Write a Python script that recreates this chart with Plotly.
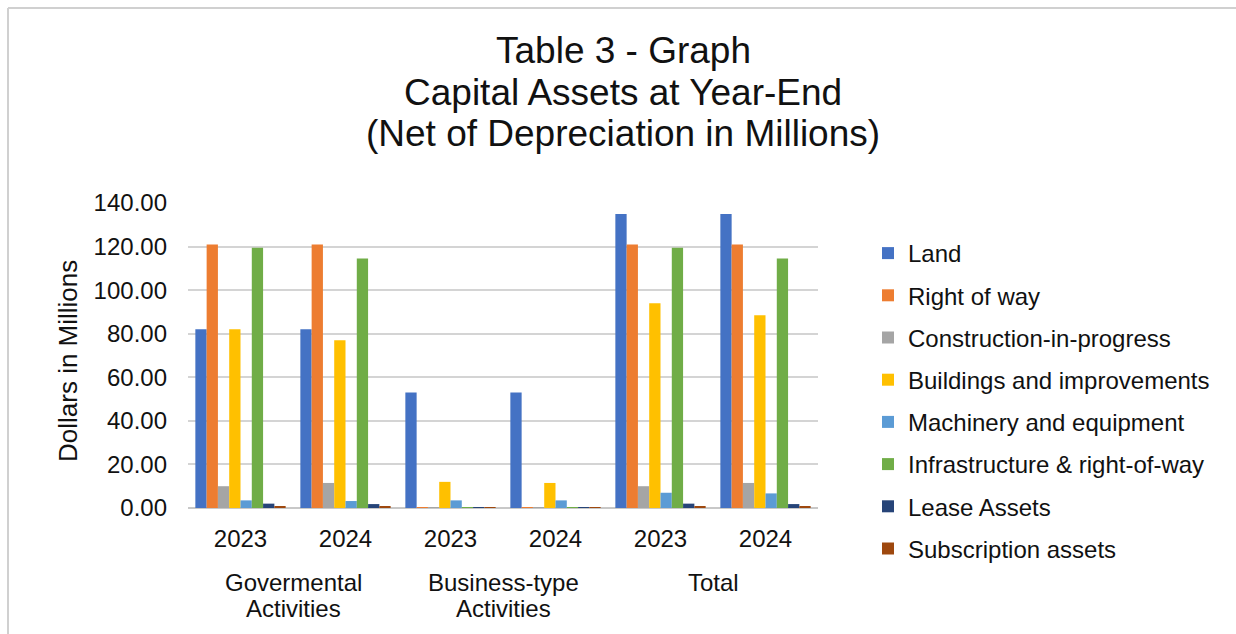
import plotly.graph_objects as go

# Category labels
years = ["2023", "2024", "2023", "2024", "2023", "2024"]
groups = [["Govermental", "Activities"], ["Business-type", "Activities"], ["Total"]]
title_lines = ["Table 3 - Graph", "Capital Assets at Year-End", "(Net of Depreciation in Millions)"]
y_title = "Dollars in Millions"

# Net capital assets by class, in millions
land = [82.0, 82.0, 53.0, 53.0, 135.0, 135.0]
right_of_way = [121.0, 121.0, 0.2, 0.2, 121.0, 121.0]
construction = [10.0, 11.5, 0.2, 0.2, 10.0, 11.5]
buildings = [82.0, 77.0, 12.0, 11.5, 94.0, 88.5]
machinery = [3.5, 3.2, 3.5, 3.5, 7.0, 6.7]
infrastructure = [119.5, 114.5, 0.3, 0.3, 119.5, 114.5]
lease = [2.0, 1.8, 0.3, 0.3, 2.0, 1.8]
subscription = [0.5, 0.5, 0.3, 0.3, 0.5, 0.5]

series = [
    ("Land", land, "#4472C4"),
    ("Right of way", right_of_way, "#ED7D31"),
    ("Construction-in-progress", construction, "#A5A5A5"),
    ("Buildings and improvements", buildings, "#FFC000"),
    ("Machinery and equipment", machinery, "#5B9BD5"),
    ("Infrastructure & right-of-way", infrastructure, "#70AD47"),
    ("Lease Assets", lease, "#264478"),
    ("Subscription assets", subscription, "#9E480E"),
]

W, H = 1236, 634
ML, MR, MT, MB = 188, 418, 203, 126
PW, PH = W - ML - MR, H - MT - MB


def px(x):
    return (x - ML) / PW


def py(y):
    return (H - MB - y) / PH


FONT = "Liberation Sans, Arial, sans-serif"
TXT = "#111111"
xpos = list(range(len(years)))

fig = go.Figure()
for i, (name, vals, color) in enumerate(series):
    fig.add_trace(go.Bar(
        x=xpos, y=vals, name=name, legendgroup=f"g{i}",
        marker=dict(color=color, line=dict(width=0)),
    ))

fig.update_layout(
    width=W, height=H,
    margin=dict(l=ML, r=MR, t=MT, b=MB, autoexpand=False),
    paper_bgcolor="white", plot_bgcolor="white",
    barmode="group", bargap=0.14, bargroupgap=0.0,
    font=dict(family=FONT, color=TXT),
    xaxis=dict(
        tickmode="array", tickvals=xpos, ticktext=years,
        range=[-0.5, 5.5], showgrid=False, zeroline=False,
        showline=False, ticks="", tickfont=dict(size=24, color=TXT),
        ticklabelstandoff=14,
    ),
    yaxis=dict(
        range=[0, 140], dtick=20, tickformat=".2f",
        showgrid=True, gridcolor="#d4d4d4", gridwidth=2,
        zeroline=True, zerolinecolor="#c8c8c8", zerolinewidth=2,
        showline=False, ticks="", tickfont=dict(size=24, color=TXT),
        ticklabelstandoff=20,
    ),
    legend=dict(
        x=868 / W, xref="container", xanchor="left",
        y=1 - 231 / H, yref="container", yanchor="top",
        font=dict(size=24, color=TXT), maxheight=420,
        tracegroupgap=8, itemwidth=30, bgcolor="rgba(0,0,0,0)",
    ),
)

# Three-line heading
for yc, line in zip([50, 92, 133], title_lines):
    fig.add_annotation(
        x=px(623), xref="paper", y=py(yc), yref="paper",
        text=line, showarrow=False, xanchor="center", yanchor="middle",
        font=dict(size=37, family=FONT, color=TXT),
    )

# Vertical axis title
fig.add_annotation(
    x=px(68), xref="paper", y=py(361), yref="paper",
    text=y_title, textangle=-90, showarrow=False,
    xanchor="center", yanchor="middle",
    font=dict(size=26, family=FONT, color=TXT),
)

# Group labels under the year ticks
for gi, lines in enumerate(groups):
    for li, line in enumerate(lines):
        fig.add_annotation(
            x=gi * 2 + 0.5, xref="x", y=py(582 + 26 * li), yref="paper",
            text=line, showarrow=False, yanchor="middle",
            font=dict(size=24, family=FONT, color=TXT),
        )

# Outer frame lines
fig.add_shape(type="line", xref="paper", yref="paper",
              x0=px(8), x1=px(1236), y0=py(8), y1=py(8),
              line=dict(color="#d0d0d0", width=2))
fig.add_shape(type="line", xref="paper", yref="paper",
              x0=px(8), x1=px(8), y0=py(8), y1=py(634),
              line=dict(color="#d0d0d0", width=2))

fig.write_html("out.html")
